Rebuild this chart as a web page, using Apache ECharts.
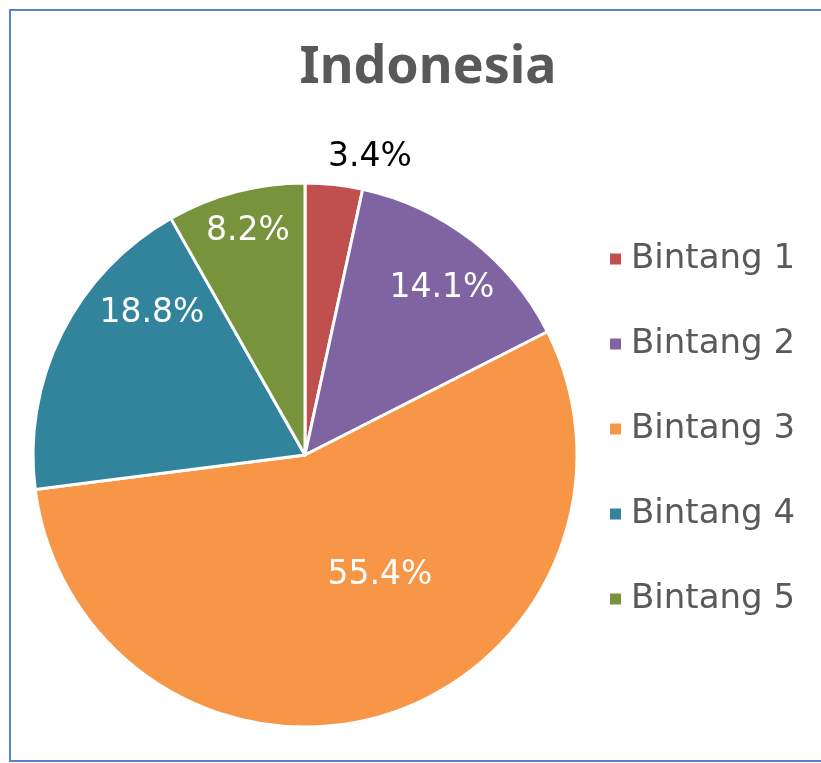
<!DOCTYPE html>
<html>
<head>
<meta charset="utf-8">
<script src="https://cdn.jsdelivr.net/npm/echarts@6/dist/echarts.min.js"></script>
<style>
  html, body { margin: 0; padding: 0; background: #fff; }
  #main { width: 821px; height: 763px; }
</style>
</head>
<body>
<div id="main"></div>
<script>
var categories = ['Bintang 1', 'Bintang 2', 'Bintang 3', 'Bintang 4', 'Bintang 5'];
var shares = [3.4, 14.1, 55.4, 18.8, 8.2];
var colors = ['#c0504d', '#8064a2', '#f79646', '#31849b', '#77933c'];

// where Excel put each percentage label (centre of text)
var labelSpots = [[370, 157], [442, 288], [380, 575], [152, 313], [248, 231]];

var chart = echarts.init(document.getElementById('main'));
var font = '"DejaVu Sans", "Noto Sans", sans-serif';

chart.setOption({
  animation: false,
  color: colors,
  title: {
    text: 'Indonesia',
    left: 423,
    top: 37,
    textAlign: 'center',
    textStyle: { fontFamily: '"Noto Sans", sans-serif', fontSize: 52, fontWeight: 'bold', color: '#595959' }
  },
  graphic: [{
    type: 'rect',
    shape: { x: 10, y: 10, width: 830, height: 751 },
    style: { fill: 'none', stroke: '#5585c5', lineWidth: 2 },
    silent: true
  }],
  legend: {
    orient: 'vertical',
    left: 608,
    top: 240,
    padding: 0,
    icon: 'rect',
    itemWidth: 13,
    itemHeight: 13,
    itemGap: 47,
    data: categories,
    textStyle: {
      fontFamily: font, fontSize: 34, lineHeight: 38, color: '#595959',
      padding: [0, 0, 0, 4]
    }
  },
  series: [{
    type: 'pie',
    center: [305, 455],
    radius: 272,
    startAngle: 90,
    clockwise: true,
    itemStyle: { borderColor: '#fff', borderWidth: 3 },
    label: {
      show: true,
      position: 'inside',
      formatter: function (p) { return p.value.toFixed(1) + '%'; },
      fontFamily: font,
      fontSize: 33,
      color: '#fff'
    },
    labelLine: { show: false },
    labelLayout: function (params) {
      var s = labelSpots[params.dataIndex];
      return { x: s[0], y: s[1], align: 'center', verticalAlign: 'middle' };
    },
    data: categories.map(function (c, i) {
      var d = { name: c, value: shares[i] };
      if (i === 0) d.label = { color: '#000' };
      return d;
    })
  }]
});
</script>
</body>
</html>
